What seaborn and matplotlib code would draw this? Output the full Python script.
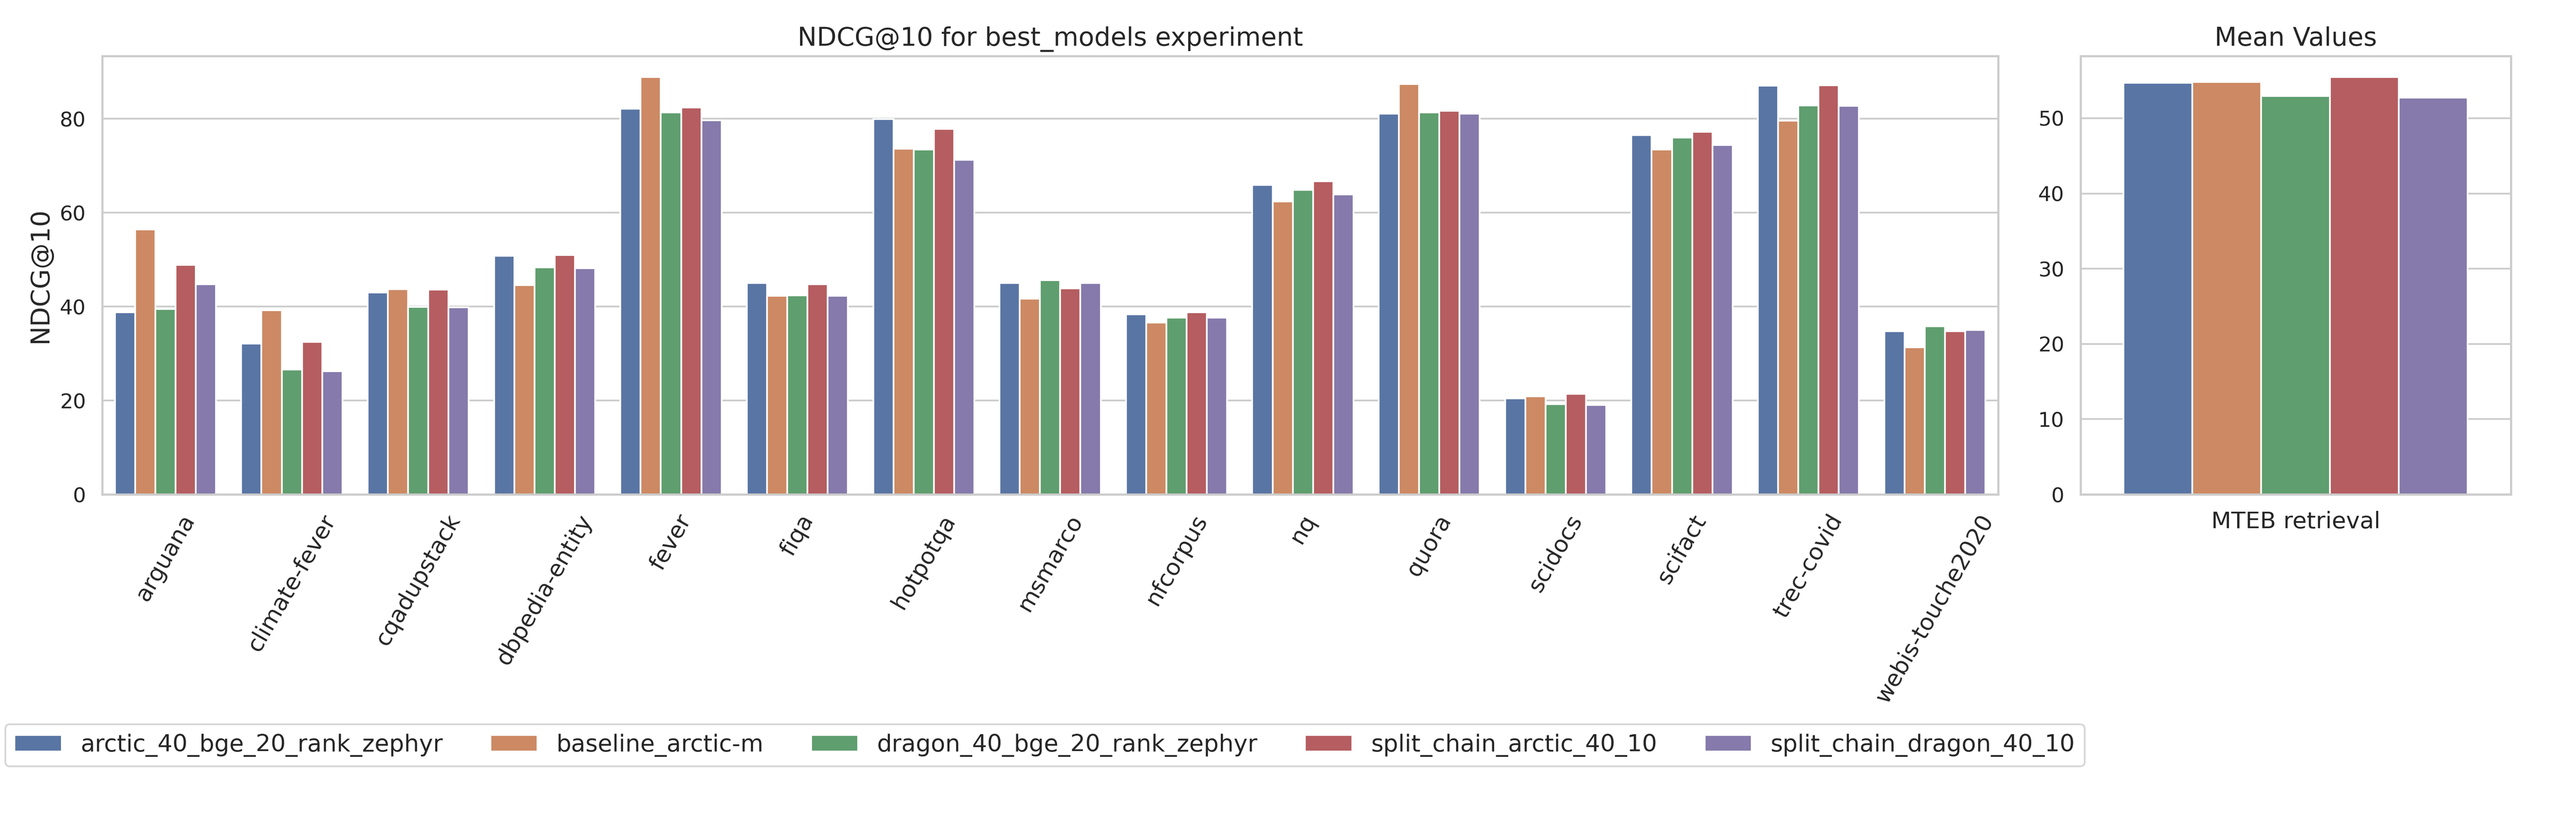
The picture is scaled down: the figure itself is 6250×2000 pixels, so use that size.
import pandas as pd
import matplotlib.pyplot as plt
import seaborn as sns

# values (NDCG@10, per dataset)
datasets = ['arguana', 'climate-fever', 'cqadupstack', 'dbpedia-entity', 'fever',
            'fiqa', 'hotpotqa', 'msmarco', 'nfcorpus', 'nq', 'quora', 'scidocs',
            'scifact', 'trec-covid', 'webis-touche2020']
models = ['arctic_40_bge_20_rank_zephyr', 'baseline_arctic-m', 'dragon_40_bge_20_rank_zephyr',
          'split_chain_arctic_40_10', 'split_chain_dragon_40_10']

arctic_40_bge_20_rank_zephyr = [38.8, 32.1, 43.0, 50.8, 82.1, 45.0, 79.9, 45.0, 38.3,
                                65.9, 81.1, 20.4, 76.5, 87.0, 34.7]
baseline_arctic_m = [56.4, 39.2, 43.7, 44.6, 88.9, 42.3, 73.6, 41.7, 36.6,
                     62.4, 87.4, 20.9, 73.4, 79.6, 31.3]
dragon_40_bge_20_rank_zephyr = [39.5, 26.6, 39.9, 48.3, 81.3, 42.4, 73.4, 45.6, 37.6,
                                64.8, 81.3, 19.2, 76.0, 82.8, 35.8]
split_chain_arctic_40_10 = [48.9, 32.5, 43.6, 51.0, 82.4, 44.7, 77.8, 43.9, 38.8,
                            66.7, 81.7, 21.4, 77.2, 87.1, 34.7]
split_chain_dragon_40_10 = [44.7, 26.2, 39.8, 48.2, 79.7, 42.3, 71.2, 45.0, 37.6,
                            63.9, 81.1, 19.0, 74.4, 82.7, 35.0]

benchmark = 'MTEB retrieval'


def build_frame():
    """Long format table: one row per dataset/model."""
    series = [arctic_40_bge_20_rank_zephyr, baseline_arctic_m, dragon_40_bge_20_rank_zephyr,
              split_chain_arctic_40_10, split_chain_dragon_40_10]
    rows = []
    for model, vals in zip(models, series):
        for ds, v in zip(datasets, vals):
            rows.append({'dataset': ds, 'model': model, 'NDCG@10': v, 'benchmark': benchmark})
    return pd.DataFrame(rows)


def main():
    df = build_frame()

    sns.set_theme(style='whitegrid')
    plt.rcParams['font.family'] = ['DejaVu Sans']

    fig, (ax, ax_mean) = plt.subplots(1, 2, figsize=(6250 / 300, 2000 / 300),
                                      gridspec_kw={'width_ratios': [4600, 1044]})
    fig.subplots_adjust(left=0.0397, right=0.9747, top=0.932, bottom=0.40, wspace=0.071)

    # per-dataset bars
    sns.barplot(data=df, x='dataset', y='NDCG@10', hue='model', hue_order=models,
                order=datasets, errorbar=None, ax=ax)
    ax.set_title('NDCG@10 for best_models experiment', fontsize=15)
    ax.set_xlabel('')
    ax.set_ylabel('NDCG@10', fontsize=15)
    ax.tick_params(axis='x', labelrotation=60, labelsize=13.5)
    ax.tick_params(axis='y', labelsize=12)
    ax.legend_.remove()

    # mean over datasets
    sns.barplot(data=df, x='benchmark', y='NDCG@10', hue='model', hue_order=models,
                errorbar=None, ax=ax_mean)
    ax_mean.set_title('Mean Values', fontsize=15)
    ax_mean.set_xlabel('')
    ax_mean.set_ylabel('')
    ax_mean.tick_params(axis='x', labelsize=13.5)
    ax_mean.tick_params(axis='y', labelsize=12)
    ax_mean.legend_.remove()

    handles, labels = ax.get_legend_handles_labels()
    fig.legend(handles, labels, loc='lower left', bbox_to_anchor=(0.002, 0.07),
               ncol=5, fontsize=13.75, borderaxespad=0)

    plt.savefig('out.png', dpi=300)
    plt.close()


if __name__ == '__main__':
    main()
